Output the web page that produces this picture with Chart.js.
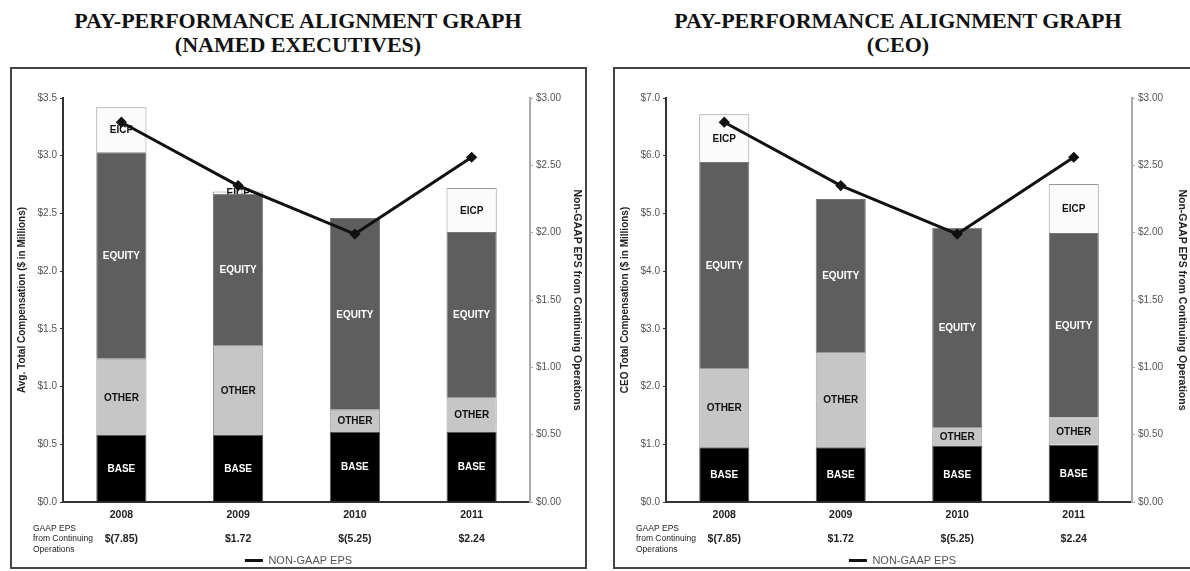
<!DOCTYPE html>
<html>
<head>
<meta charset="utf-8">
<script src="https://cdn.jsdelivr.net/npm/chart.js@4"></script>
<style>
  body { margin: 0; width: 1190px; height: 571px; overflow: hidden; background: #fff; position: relative; }
  .title { position: absolute; top: 9px; text-align: center; font: bold 22px "Liberation Serif", "Times New Roman", serif; line-height: 24px; color: #111; }
  .frame { position: absolute; top: 67px; height: 502px; border: 2px solid #444; box-sizing: border-box; }
  .frame canvas { position: absolute; left: 0; top: 0; }
</style>
</head>
<body>
<div class="title" style="left:0;width:596px">PAY-PERFORMANCE ALIGNMENT GRAPH<br>(NAMED EXECUTIVES)</div>
<div class="title" style="left:600px;width:596px">PAY-PERFORMANCE ALIGNMENT GRAPH<br>(CEO)</div>
<div class="frame" style="left:10px;width:577px"><div style="position:absolute;left:0;top:0;width:573px;height:507px"><canvas id="neoChart"></canvas></div></div>
<div class="frame" style="left:613px;width:582px"><div style="position:absolute;left:0;top:0;width:575px;height:507px"><canvas id="ceoChart"></canvas></div></div>

<script>
// datos
const years = ["2008", "2009", "2010", "2011"];
const gaapEps = ["$(7.85)", "$1.72", "$(5.25)", "$2.24"];
const nonGaapEps = [2.82, 2.35, 1.99, 2.56];

// ejecutivos (promedio, $M)
const neoBase = [0.58, 0.58, 0.61, 0.61];
const neoOther = [0.66, 0.78, 0.19, 0.30];
const neoEquity = [1.79, 1.31, 1.66, 1.43];
const neoEicp = [0.39, 0.02, 0, 0.38];

// CEO ($M)
const ceoBase = [0.95, 0.95, 0.97, 0.99];
const ceoOther = [1.37, 1.65, 0.33, 0.48];
const ceoEquity = [3.57, 2.65, 3.45, 3.19];
const ceoEicp = [0.83, 0, 0, 0.85];

const sans = '"Liberation Sans", Arial, sans-serif';

// etiquetas dentro de cada segmento
const segmentLabels = {
  id: "segmentLabels",
  afterDatasetDraw(chart, args) {
    const ds = chart.data.datasets[args.index];
    if (ds.type === "line") return;
    const ctx = chart.ctx;
    ctx.save();
    ctx.font = "bold 10px " + sans;
    ctx.fillStyle = ds.labelColor;
    ctx.textAlign = "center";
    ctx.textBaseline = "middle";
    args.meta.data.forEach((bar, i) => {
      if (!ds.data[i]) return;
      ctx.fillText(ds.label, bar.x, (bar.y + bar.base) / 2 + 1);
    });
    ctx.restore();
  },
  afterDraw(chart) {
    const ctx = chart.ctx;
    const x = chart.scales.x;
    ctx.save();
    ctx.font = "8.5px " + sans;
    ctx.fillStyle = "#222";
    ctx.textBaseline = "middle";
    ctx.fillText("GAAP EPS", 21, x.top + 26.5);
    ctx.fillText("from Continuing", 21, x.top + 37);
    ctx.fillText("Operations", 21, x.top + 47.5);
    ctx.restore();
  }
};

function makeChart(id, base, other, equity, eicp, yMax, yStep, yTitle, rightWidth) {
  const bar = (label, data, color, labelColor, border) => ({
    type: "bar", label, data, backgroundColor: color, labelColor,
    borderColor: border, borderWidth: 1, order: 1, stack: "pay",
    categoryPercentage: 1, barPercentage: 0.43
  });

  new Chart(document.getElementById(id), {
    data: {
      labels: years.map((y, i) => [y, gaapEps[i]]),
      datasets: [
        bar("BASE", base, "#000000", "#ffffff", "#555"),
        bar("OTHER", other, "#c6c6c6", "#111111", "#999"),
        bar("EQUITY", equity, "#5e5e5e", "#ffffff", "#777"),
        bar("EICP", eicp, "#fbfbfb", "#111111", "#999"),
        {
          type: "line", label: "NON-GAAP EPS", data: nonGaapEps, yAxisID: "y1", order: 0,
          borderColor: "#111", backgroundColor: "#111", borderWidth: 3,
          pointStyle: "rectRot", pointRadius: 3.5, pointBackgroundColor: "#111"
        }
      ]
    },
    options: {
      animation: false,
      responsive: true,
      maintainAspectRatio: false,
      layout: { padding: { top: 29, left: 0, right: 0, bottom: 0 } },
      plugins: {
        tooltip: { enabled: false },
        legend: {
          position: "bottom",
          labels: {
            filter: item => item.text === "NON-GAAP EPS",
            usePointStyle: true, pointStyle: "line", pointStyleWidth: 18,
            color: "#555", padding: 3,
            font: { family: sans, size: 11 }
          }
        }
      },
      scales: {
        x: {
          stacked: true,
          afterFit: s => { s.height = 50; },
          grid: { drawOnChartArea: false, drawTicks: false },
          border: { color: "#333", width: 2 },
          ticks: { color: "#222", padding: 1, font: { family: sans, size: 10.5, weight: "bold", lineHeight: 2.3 } }
        },
        y: {
          stacked: true, min: 0, max: yMax,
          afterFit: s => { s.width = 51; },
          grid: { drawOnChartArea: false, tickLength: 3, color: "#333" },
          border: { color: "#333", width: 2 },
          ticks: { stepSize: yStep, padding: 3, color: "#555", font: { family: sans, size: 10 },
            callback: v => "$" + v.toFixed(1) },
          title: { display: true, text: yTitle, color: "#222", padding: { top: 4, bottom: 0 },
            font: { family: sans, size: 10, weight: "bold" } }
        },
        y1: {
          position: "right", min: 0, max: 3,
          afterFit: s => { s.width = rightWidth; },
          grid: { drawOnChartArea: false, tickLength: 3, color: "#aaa" },
          border: { color: "#aaa", width: 2 },
          ticks: { stepSize: 0.5, padding: 3, color: "#555", font: { family: sans, size: 10 },
            callback: v => "$" + v.toFixed(2) },
          title: { display: true, text: "Non-GAAP EPS from Continuing Operations", color: "#222",
            padding: { top: 2, bottom: 0 }, font: { family: sans, size: 10.5, weight: "bold" } }
        }
      }
    },
    plugins: [segmentLabels]
  });
}

makeChart("neoChart", neoBase, neoOther, neoEquity, neoEicp, 3.5, 0.5,
  "Avg. Total Compensation ($ in Millions)", 55);
makeChart("ceoChart", ceoBase, ceoOther, ceoEquity, ceoEicp, 7, 1,
  "CEO Total Compensation ($ in Millions)", 58);
</script>
</body>
</html>
